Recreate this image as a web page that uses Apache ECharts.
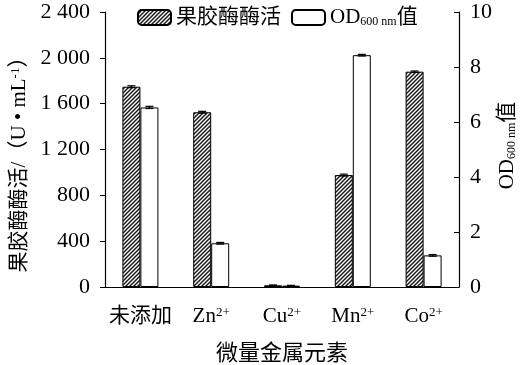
<!DOCTYPE html>
<html><head><meta charset="utf-8">
<script src="https://cdn.jsdelivr.net/npm/echarts@6/dist/echarts.min.js"></script>
<style>html,body{margin:0;padding:0;background:#fff}#c{width:525px;height:365px}</style>
</head><body><div id="c"></div>
<script>
const categories = ['未添加', 'Zn', 'Cu', 'Mn', 'Co'];
const categorySup = ['', '2+', '2+', '2+', '2+'];
const activity = [1748, 1525, 15, 977, 1879];
const activityErr = [8, 8, 3, 8, 6];
const od600 = [6.53, 1.59, 0.05, 8.43, 1.15];
const od600Err = [0.04, 0.03, 0.01, 0.03, 0.03];
const leftTicks = [0, 400, 800, 1200, 1600, 2000, 2400];
const rightTicks = [0, 2, 4, 6, 8, 10];

const SERIF = "'Liberation Serif','Times New Roman','Noto Sans CJK SC',serif";

function hatch() {
  const c = document.createElement('canvas');
  c.width = 4; c.height = 4;
  const g = c.getContext('2d');
  g.fillStyle = '#ffffff'; g.fillRect(0, 0, 4, 4);
  g.strokeStyle = '#1a1a1a'; g.lineWidth = 1.5;
  g.beginPath();
  g.moveTo(-1, 5); g.lineTo(5, -1);
  g.moveTo(-1, 1); g.lineTo(1, -1);
  g.moveTo(3, 5); g.lineTo(5, 3);
  g.stroke();
  return c;
}
const hatchPattern = { image: hatch(), repeat: 'repeat' };

function fmtThousands(v) {
  const s = String(v);
  return s.length > 3 ? s.slice(0, s.length - 3) + ' ' + s.slice(-3) : s;
}

function errItem(offset) {
  return function (params, api) {
    const i = api.value(0), v = api.value(1), e = api.value(2);
    const top = api.coord([i, v + e]);
    const bot = api.coord([i, v - e]);
    const x = top[0] + offset;
    const w = 4;
    const st = { stroke: '#000', lineWidth: 1.2 };
    return { type: 'group', children: [
      { type: 'line', shape: { x1: x, y1: top[1], x2: x, y2: bot[1] }, style: st },
      { type: 'line', shape: { x1: x - w, y1: top[1], x2: x + w, y2: top[1] }, style: st },
      { type: 'line', shape: { x1: x - w, y1: bot[1], x2: x + w, y2: bot[1] }, style: st }
    ]};
  };
}

const chart = echarts.init(document.getElementById('c'), null, { renderer: 'canvas' });
const richBase = {
  n: { fontFamily: SERIF, fontSize: 21, color: '#000' },
  sup: { fontFamily: SERIF, fontSize: 13, color: '#000', verticalAlign: 'top', padding: [0, 0, 8, 0] },
  sub: { fontFamily: SERIF, fontSize: 12, color: '#000', padding: [8, 0, 0, 0] }
};

chart.setOption({
  animation: false,
  backgroundColor: '#fff',
  grid: { left: 105, right: 66, top: 12, bottom: 78, outerBoundsMode: 'none', containLabel: false },
  legend: {
    left: 132, top: 2,
    itemWidth: 33, itemHeight: 15, itemGap: 10,
    data: ['果胶酶酶活', 'OD'],
    formatter: function (n) { return n === 'OD' ? '{n|OD}{sub|600 nm}{n|值}' : '{n|' + n + '}'; },
    textStyle: { fontFamily: SERIF, fontSize: 21, color: '#000', rich: richBase }
  },
  xAxis: {
    type: 'category',
    data: categories,
    name: '微量金属元素',
    nameLocation: 'middle',
    nameGap: 56,
    nameTextStyle: { fontFamily: SERIF, fontSize: 22, color: '#000' },
    axisLine: { lineStyle: { color: '#000', width: 1.2 } },
    axisTick: { alignWithLabel: true, length: 4, lineStyle: { color: '#000' } },
    axisLabel: {
      margin: 19, interval: 0,
      formatter: function (v, i) { return categorySup[i] ? '{n|' + v + '}{sup|' + categorySup[i] + '}' : '{n|' + v + '}'; },
      rich: richBase
    }
  },
  yAxis: [{
    type: 'value', min: 0, max: 2400, interval: 400,
    name: '果胶酶酶活/（U • mL{sup|-1}{n|）}',
    nameLocation: 'middle', nameGap: 75, nameMoveOverlap: false,
    nameTextStyle: { fontFamily: SERIF, fontSize: 21, color: '#000', rich: richBase, padding: [0, 20, 0, 0] },
    axisLine: { show: true, lineStyle: { color: '#000', width: 1.2 } },
    axisTick: { show: true, length: 5, lineStyle: { color: '#000' } },
    splitLine: { show: false },
    axisLabel: { fontFamily: SERIF, fontSize: 22, color: '#000', margin: 15, formatter: fmtThousands }
  }, {
    type: 'value', min: 0, max: 10, interval: 2,
    name: 'OD{sub|600 nm}{n|值}',
    nameLocation: 'middle', nameGap: 38, nameRotate: 90, nameMoveOverlap: false,
    nameTextStyle: { fontFamily: SERIF, fontSize: 21, color: '#000', rich: richBase, padding: [0, 0, 0, 8] },
    axisLine: { show: true, lineStyle: { color: '#000', width: 1.2 } },
    axisTick: { show: true, inside: true, length: 5, lineStyle: { color: '#000' } },
    splitLine: { show: false },
    axisLabel: { fontFamily: SERIF, fontSize: 22, color: '#000', margin: 11 }
  }],
  series: [{
    name: '果胶酶酶活', type: 'bar', yAxisIndex: 0, barWidth: 18, barGap: '0%',
    data: activity,
    itemStyle: { color: hatchPattern, borderColor: '#000', borderWidth: 1 }
  }, {
    name: 'OD', type: 'bar', yAxisIndex: 1, barWidth: 18, barGap: '0%',
    data: od600,
    itemStyle: { color: '#fff', borderColor: '#000', borderWidth: 1 }
  }, {
    type: 'custom', yAxisIndex: 0, z: 5, renderItem: errItem(-9),
    data: activity.map((v, i) => [i, v, activityErr[i]])
  }, {
    type: 'custom', yAxisIndex: 1, z: 5, renderItem: errItem(9),
    data: od600.map((v, i) => [i, v, od600Err[i]])
  }]
});
</script></body></html>
